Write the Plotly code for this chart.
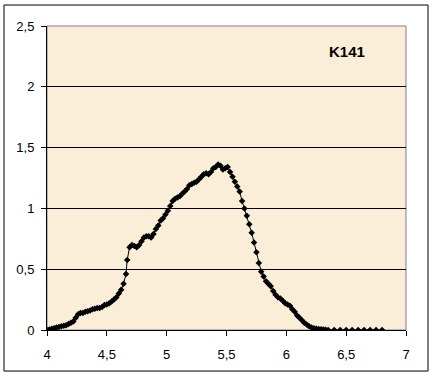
import plotly.graph_objects as go

x_vals = [4.00, 4.02, 4.04, 4.06, 4.08, 4.10, 4.12, 4.14, 4.16, 4.18, 4.20, 4.22, 4.24, 4.26, 4.28,
          4.30, 4.32, 4.34, 4.36, 4.38, 4.40, 4.42, 4.44, 4.46, 4.48, 4.50, 4.52, 4.54, 4.56, 4.58,
          4.60, 4.62, 4.64, 4.66, 4.67, 4.69, 4.71, 4.73, 4.75, 4.77, 4.79, 4.81, 4.83, 4.85, 4.87,
          4.89, 4.91, 4.93, 4.95, 4.97, 4.99, 5.01, 5.03, 5.05, 5.07, 5.09, 5.11, 5.13, 5.15, 5.17,
          5.19, 5.21, 5.23, 5.25, 5.27, 5.29, 5.31, 5.33, 5.35, 5.37, 5.39, 5.41, 5.43, 5.45, 5.47,
          5.49, 5.51, 5.53, 5.55, 5.57, 5.59, 5.61, 5.63, 5.65, 5.67, 5.69, 5.71, 5.73, 5.75, 5.77,
          5.79, 5.81, 5.83, 5.85, 5.87, 5.89, 5.91, 5.93, 5.95, 5.97, 5.99, 6.01, 6.03, 6.05, 6.07,
          6.09, 6.11, 6.13, 6.15, 6.17, 6.19, 6.21, 6.23, 6.25, 6.27, 6.29, 6.31, 6.33, 6.35, 6.40,
          6.45, 6.50, 6.55, 6.60, 6.65, 6.70, 6.75, 6.80]
y_vals = [0.000, 0.005, 0.010, 0.015, 0.020, 0.025, 0.030, 0.035, 0.040, 0.050, 0.060, 0.070, 0.100, 0.130, 0.140,
          0.140, 0.150, 0.155, 0.160, 0.170, 0.175, 0.180, 0.180, 0.190, 0.205, 0.210, 0.220, 0.235, 0.250, 0.270,
          0.300, 0.330, 0.380, 0.460, 0.575, 0.680, 0.700, 0.690, 0.680, 0.700, 0.730, 0.760, 0.770, 0.770, 0.760,
          0.790, 0.830, 0.860, 0.900, 0.920, 0.950, 0.980, 1.020, 1.060, 1.080, 1.090, 1.100, 1.120, 1.140, 1.160,
          1.190, 1.200, 1.210, 1.220, 1.240, 1.260, 1.280, 1.290, 1.280, 1.300, 1.330, 1.340, 1.360, 1.350, 1.320,
          1.330, 1.340, 1.300, 1.260, 1.220, 1.180, 1.140, 1.060, 1.000, 0.940, 0.870, 0.800, 0.720, 0.640, 0.550,
          0.480, 0.440, 0.400, 0.380, 0.360, 0.320, 0.290, 0.270, 0.260, 0.240, 0.220, 0.210, 0.200, 0.170, 0.150,
          0.120, 0.100, 0.080, 0.060, 0.045, 0.030, 0.020, 0.015, 0.010, 0.008, 0.006, 0.004, 0.002, 0.000, 0.000,
          0.000, 0.000, 0.000, 0.000, 0.000, 0.000, 0.000, 0.000]

x_ticks = [4, 4.5, 5, 5.5, 6, 6.5, 7]
x_tick_labels = ["4", "4,5", "5", "5,5", "6", "6,5", "7"]
y_ticks = [0, 0.5, 1, 1.5, 2, 2.5]
y_tick_labels = ["0", "0,5", "1", "1,5", "2", "2,5"]
series_label = "K141"

fig = go.Figure()
fig.add_trace(go.Scatter(
    x=x_vals, y=y_vals, mode="lines+markers",
    line=dict(color="black", width=1),
    marker=dict(symbol="diamond", size=5, color="black"),
    showlegend=False, hoverinfo="skip"))

font = dict(family="Liberation Sans, Arial, sans-serif", size=13, color="black")

fig.update_layout(
    width=433, height=377,
    margin=dict(l=47, r=27, t=26, b=47),
    paper_bgcolor="white",
    plot_bgcolor="#FAEED8",
    font=font,
    xaxis=dict(range=[4, 7], tickvals=x_ticks, ticktext=x_tick_labels,
               showgrid=False, zeroline=False, showline=True, linecolor="black", linewidth=1,
               ticks="outside", ticklen=5, tickcolor="black", ticklabelstandoff=7),
    yaxis=dict(range=[0, 2.5], tickvals=y_ticks, ticktext=y_tick_labels,
               showgrid=True, gridcolor="black", gridwidth=1, zeroline=False,
               showline=True, linecolor="black", linewidth=1,
               ticks="outside", ticklen=5, tickcolor="black", ticklabelstandoff=4),
    shapes=[
        dict(type="rect", xref="paper", yref="paper", x0=0, x1=1, y0=0, y1=1,
             line=dict(color="#808080", width=1), layer="below"),
        dict(type="rect", xref="paper", yref="paper", x0=-0.1198, x1=1.0613, y0=-0.135, y1=1.069,
             line=dict(color="black", width=1)),
    ],
    annotations=[dict(x=6.51, y=2.29, xref="x", yref="y", text="<b>" + series_label + "</b>",
                      showarrow=False,
                      font=dict(family="Liberation Sans, Arial, sans-serif", size=15, color="black"))],
)

fig.write_html("out.html", config={"displayModeBar": False},
               post_script="document.body.style.margin='0';document.body.style.overflow='hidden';")
